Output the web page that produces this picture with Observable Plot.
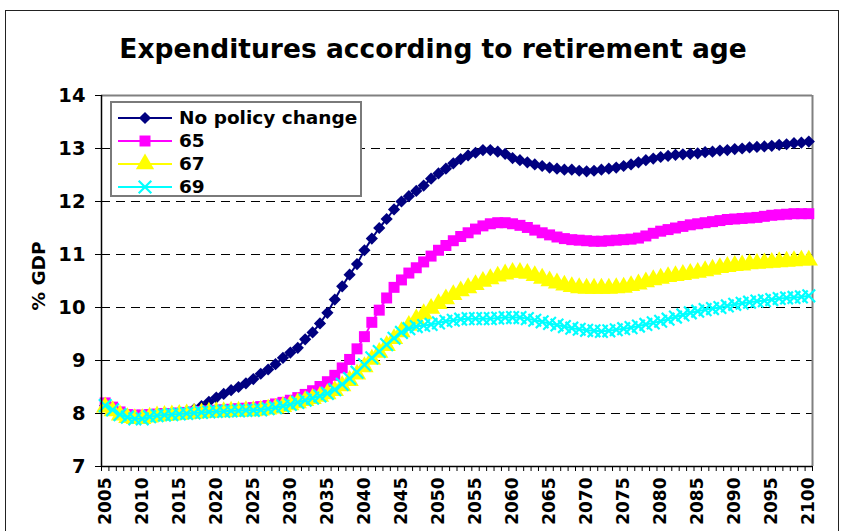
<!DOCTYPE html>
<html>
<head>
<meta charset="utf-8">
<script src="https://cdn.jsdelivr.net/npm/d3@7"></script>
<script src="https://cdn.jsdelivr.net/npm/@observablehq/plot@0.6"></script>
<style>
  html, body { margin: 0; padding: 0; background: #fff; }
  #wrap { position: relative; width: 841px; height: 531px; overflow: hidden; background: #fff; }
  #frame { position: absolute; left: 5px; top: 10px; width: 834px; height: 600px; border: 1.5px solid #222; box-sizing: border-box; }
  #title { position: absolute; left: 0; width: 866px; top: 32px; text-align: center; font-family: "DejaVu Sans", sans-serif; font-weight: bold; font-size: 26.5px; line-height: 34px; color: #000; white-space: nowrap; }
  #chart { position: absolute; left: 0; top: 0; }
  #ylabel { position: absolute; left: 38px; top: 276px; transform: translate(-50%, -50%) rotate(-90deg); font-family: "DejaVu Sans", sans-serif; font-weight: bold; font-size: 18.5px; white-space: nowrap; }
  #legend { position: absolute; left: 110px; top: 101px; width: 252px; height: 96px; border: 2px solid #7a7a7a; box-sizing: border-box; background: #fff; }
  .row { position: absolute; left: 0; height: 22px; }
  .row svg { position: absolute; left: 6px; top: 0; }
  .row span { position: absolute; left: 67px; font-family: "DejaVu Sans", sans-serif; font-weight: bold; font-size: 18.5px; white-space: nowrap; line-height: 22px; top: 0; }
</style>
</head>
<body>
<div id="wrap">
  <div id="frame"></div>
  <div id="chart"></div>
  <div id="title">Expenditures according to retirement age</div>
  <div id="ylabel">% GDP</div>
  <div id="legend"></div>
</div>
<script>
// ---------- data ----------
const years = d3.range(2005, 2101);
const seriesNames = ["No policy change", "65", "67", "69"];
const seriesColors = ["#000080", "#FF00FF", "#FFFF00", "#00FFFF"];
const yTicks = [7, 8, 9, 10, 11, 12, 13, 14];
const gridValues = [8, 9, 10, 11, 12, 13];
const xLabelYears = d3.range(2005, 2101, 5);

const noPolicy = [
  8.15, 8.08, 8.00, 7.96, 7.95, 7.95, 7.96, 7.97, 7.98, 7.99,
  8.00, 8.03, 8.08, 8.14, 8.22, 8.30, 8.37, 8.44, 8.50, 8.57,
  8.65, 8.75, 8.83, 8.93, 9.05, 9.15, 9.24, 9.40, 9.53, 9.70,
  9.90, 10.15, 10.40, 10.62, 10.82, 11.08, 11.30, 11.50, 11.67, 11.85,
  12.00, 12.10, 12.20, 12.30, 12.43, 12.53, 12.62, 12.72, 12.80, 12.87,
  12.92, 12.97, 12.97, 12.94, 12.90, 12.82, 12.78, 12.74, 12.70, 12.67,
  12.64, 12.62, 12.60, 12.60, 12.58, 12.57, 12.58, 12.60, 12.62, 12.64,
  12.67, 12.70, 12.74, 12.78, 12.81, 12.84, 12.86, 12.88, 12.89, 12.90,
  12.91, 12.93, 12.94, 12.96, 12.97, 12.99, 13.00, 13.02, 13.03, 13.04,
  13.05, 13.07, 13.08, 13.10, 13.11, 13.13
];
const age65 = [
  8.20, 8.12, 8.03, 7.98, 7.97, 7.97, 7.98, 7.99, 8.00, 8.00,
  8.01, 8.02, 8.03, 8.04, 8.05, 8.06, 8.07, 8.08, 8.09, 8.10,
  8.11, 8.13, 8.15, 8.18, 8.21, 8.25, 8.30, 8.36, 8.43, 8.51,
  8.60, 8.72, 8.86, 9.02, 9.22, 9.45, 9.72, 9.95, 10.18, 10.38,
  10.52, 10.65, 10.75, 10.86, 10.97, 11.08, 11.17, 11.26, 11.34, 11.41,
  11.48, 11.54, 11.58, 11.60, 11.60, 11.58, 11.55, 11.51, 11.46, 11.41,
  11.37, 11.33, 11.30, 11.28, 11.27, 11.26, 11.25, 11.25, 11.26, 11.27,
  11.28, 11.29, 11.31, 11.35, 11.40, 11.44, 11.47, 11.50, 11.53, 11.56,
  11.58, 11.60, 11.62, 11.64, 11.66, 11.67, 11.68, 11.69, 11.70, 11.72,
  11.74, 11.75, 11.76, 11.77, 11.77, 11.77
];
const age67 = [
  8.12, 8.05, 7.97, 7.92, 7.90, 7.90, 7.93, 7.95, 7.96, 7.97,
  7.98, 7.99, 8.00, 8.01, 8.02, 8.03, 8.03, 8.04, 8.04, 8.05,
  8.05, 8.06, 8.08, 8.10, 8.13, 8.16, 8.20, 8.24, 8.28, 8.32,
  8.37, 8.43, 8.52, 8.62, 8.74, 8.88, 9.02, 9.15, 9.28, 9.41,
  9.54, 9.66, 9.78, 9.88, 9.98, 10.07, 10.16, 10.24, 10.31, 10.37,
  10.43, 10.49, 10.54, 10.59, 10.63, 10.66, 10.66, 10.64, 10.60, 10.55,
  10.50, 10.46, 10.42, 10.39, 10.37, 10.36, 10.36, 10.36, 10.36, 10.37,
  10.38, 10.41, 10.44, 10.48, 10.52, 10.55, 10.58, 10.60, 10.62, 10.64,
  10.66, 10.69, 10.72, 10.75, 10.77, 10.79, 10.80, 10.82, 10.83, 10.84,
  10.85, 10.86, 10.87, 10.88, 10.89, 10.89
];
const age69 = [
  8.15, 8.07, 7.98, 7.93, 7.90, 7.90, 7.94, 7.96, 7.97, 7.98,
  7.99, 8.00, 8.01, 8.02, 8.03, 8.04, 8.04, 8.05, 8.05, 8.06,
  8.06, 8.07, 8.09, 8.11, 8.14, 8.17, 8.21, 8.25, 8.29, 8.33,
  8.38, 8.45, 8.55, 8.66, 8.78, 8.92, 9.05, 9.17, 9.30, 9.42,
  9.53, 9.60, 9.64, 9.66, 9.68, 9.71, 9.74, 9.76, 9.78, 9.79,
  9.79, 9.79, 9.79, 9.80, 9.81, 9.81, 9.81, 9.79, 9.76, 9.73,
  9.70, 9.67, 9.64, 9.61, 9.59, 9.57, 9.56, 9.55, 9.56, 9.58,
  9.60, 9.62, 9.65, 9.68, 9.71, 9.74, 9.78, 9.82, 9.86, 9.90,
  9.93, 9.96, 9.98, 10.00, 10.03, 10.06, 10.08, 10.10, 10.12, 10.13,
  10.15, 10.17, 10.18, 10.19, 10.20, 10.22
];

const seriesValues = [noPolicy, age65, age67, age69];
const symbols = ["diamond2", "square", "triangle", "times"];
const symbolR = [5.5, 6.2, 6.8, 5.8];

// long table built from the arrays
const rows = [];
seriesNames.forEach((name, i) => {
  years.forEach((yr, j) => rows.push({ series: name, year: yr, value: seriesValues[i][j] }));
});

const seriesMarks = seriesNames.flatMap((name, i) => {
  const data = rows.filter(d => d.series === name);
  const isStroke = symbols[i] === "times";
  return [
    Plot.line(data, { x: "year", y: "value", stroke: seriesColors[i], strokeWidth: 2 }),
    Plot.dot(data, {
      x: "year", y: "value", symbol: () => symbols[i], r: symbolR[i],
      fill: isStroke ? "none" : seriesColors[i],
      stroke: isStroke ? seriesColors[i] : "none",
      strokeWidth: isStroke ? 2.2 : 0
    })
  ];
});

const chart = Plot.plot({
  width: 841,
  height: 531,
  marginLeft: 101,
  marginRight: 29,
  marginTop: 95,
  marginBottom: 65,
  style: { background: "transparent", color: "#000", overflow: "visible" },
  x: { type: "linear", domain: [2004.5, 2100.5] },
  y: { domain: [7, 14] },
  marks: [
    Plot.ruleY(gridValues, { stroke: "#000", strokeWidth: 1, strokeDasharray: "9,6" }),
    Plot.ruleY([14], { stroke: "#808080", strokeWidth: 2 }),
    Plot.ruleX([2100.5], { stroke: "#808080", strokeWidth: 2 }),
    ...seriesMarks,
    Plot.ruleX([2004.5], { stroke: "#000", strokeWidth: 1.5 }),
    Plot.ruleY([7], { stroke: "#000", strokeWidth: 1.5 }),
    Plot.axisY({
      ticks: yTicks, tickSize: 6, tickPadding: 10, label: null,
      fontFamily: "DejaVu Sans", fontSize: 19.5, fontWeight: "bold", tickFormat: d => String(d)
    }),
    Plot.axisX({
      ticks: d3.range(2004.5, 2101, 1), tickSize: 5, tickFormat: () => "", label: null
    }),
    Plot.axisX({
      ticks: xLabelYears, tickSize: 0, tickPadding: 11, tickRotate: -90, label: null,
      fontFamily: "DejaVu Sans", fontSize: 17, fontWeight: "bold", tickFormat: d => String(d)
    })
  ]
});
document.getElementById("chart").appendChild(chart);

// ---------- legend ----------
const legend = document.getElementById("legend");
const rowTops = [4, 27, 50, 73];
const symMap = { diamond2: d3.symbolDiamond2, square: d3.symbolSquare, triangle: d3.symbolTriangle, times: d3.symbolTimes };
seriesNames.forEach((name, i) => {
  const row = document.createElement("div");
  row.className = "row";
  row.style.top = rowTops[i] + "px";
  const svg = d3.create("svg").attr("width", 56).attr("height", 22);
  svg.append("line").attr("x1", 0).attr("x2", 54).attr("y1", 11).attr("y2", 11)
    .attr("stroke", seriesColors[i]).attr("stroke-width", 2);
  const size = Math.PI * symbolR[i] * symbolR[i];
  const isStroke = symbols[i] === "times";
  svg.append("path").attr("d", d3.symbol(symMap[symbols[i]], size)())
    .attr("transform", "translate(27,11)")
    .attr("fill", isStroke ? "none" : seriesColors[i])
    .attr("stroke", isStroke ? seriesColors[i] : "none")
    .attr("stroke-width", isStroke ? 2.2 : 0);
  row.appendChild(svg.node());
  const span = document.createElement("span");
  span.textContent = name;
  row.appendChild(span);
  legend.appendChild(row);
});
</script>
</body>
</html>
